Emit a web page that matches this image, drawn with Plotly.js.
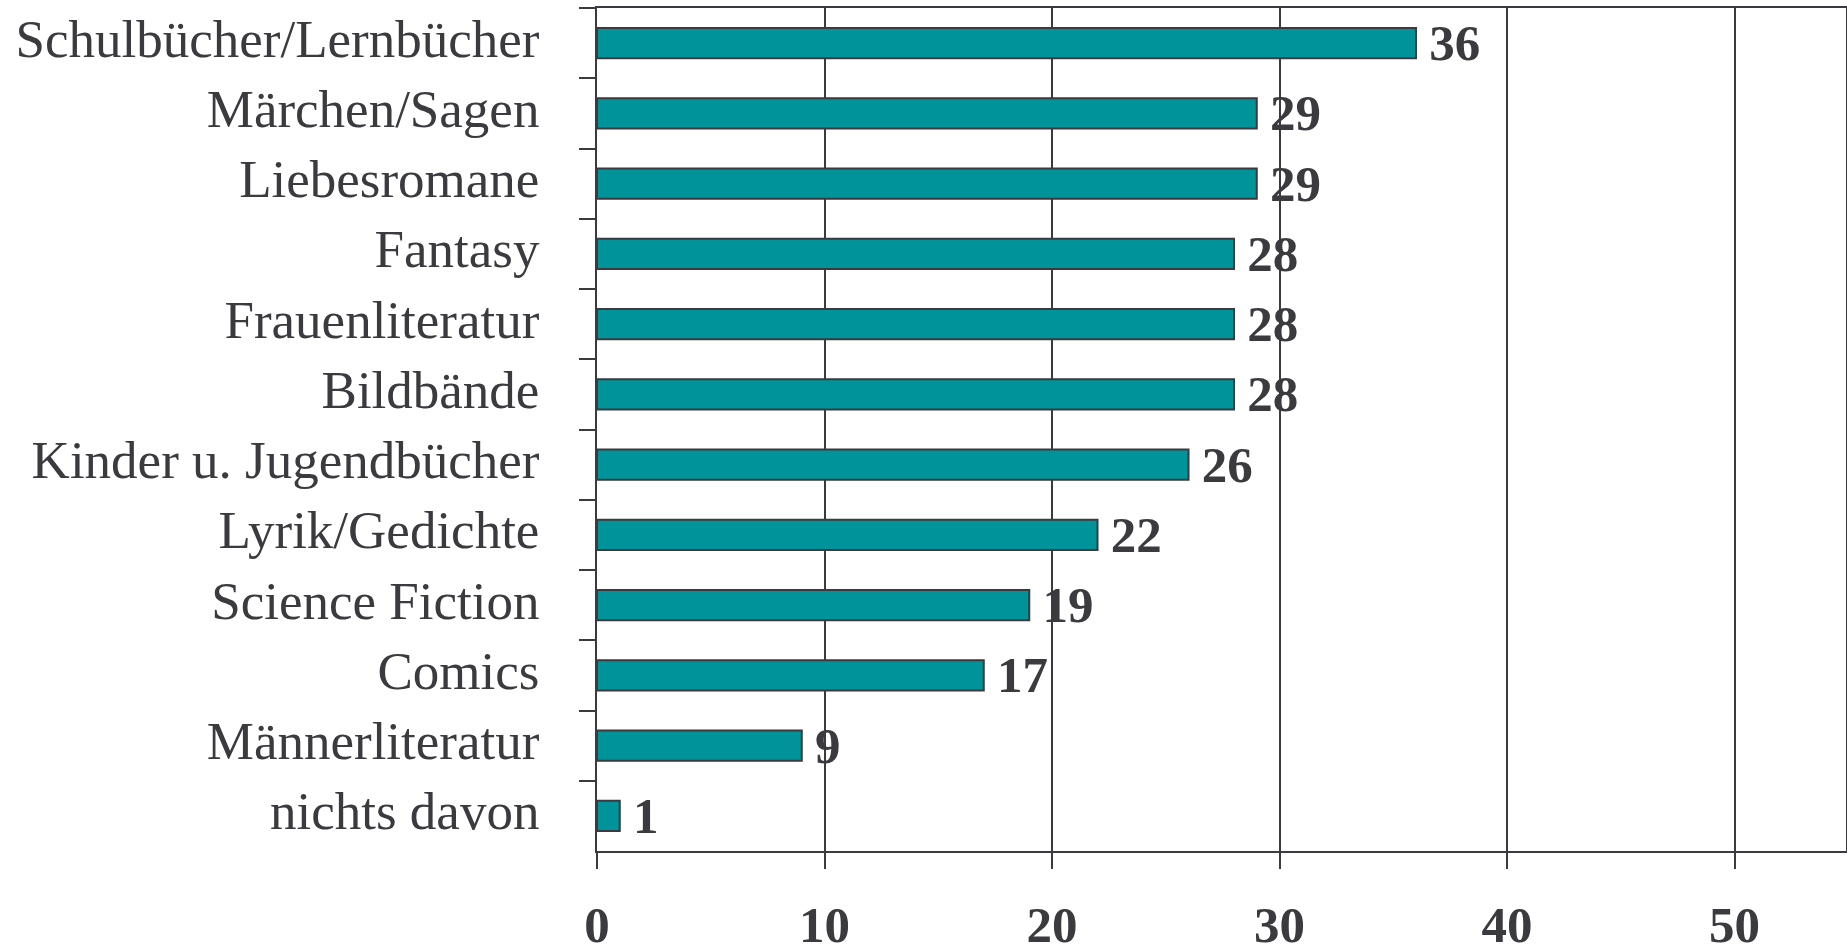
<!DOCTYPE html>
<html>
<head>
<meta charset="utf-8">
<script src="https://cdn.plot.ly/plotly-3.0.1.min.js"></script>
<style>html,body{margin:0;padding:0;background:#fff;}#chart{width:1847px;height:949px;}</style>
</head>
<body>
<div id="chart"></div>
<script>
// Categories listed top to bottom
const categories = [
  "Schulbücher/Lernbücher",
  "Märchen/Sagen",
  "Liebesromane",
  "Fantasy",
  "Frauenliteratur",
  "Bildbände",
  "Kinder u. Jugendbücher",
  "Lyrik/Gedichte",
  "Science Fiction",
  "Comics",
  "Männerliteratur",
  "nichts davon"
];
const values = [36, 29, 29, 28, 28, 28, 26, 22, 19, 17, 9, 1];
const xTickValues = [0, 10, 20, 30, 40, 50];
const xTickLabels = ["0", "10", "20", "30", "40", "50"];

const ink = "#3a3a3f";
const trace = {
  type: "bar",
  orientation: "h",
  x: values,
  y: categories,
  width: 0.43,
  marker: { color: "#00949a", line: { color: ink, width: 2 } },
  text: values.map(v => "\u2009" + v),
  textposition: "outside",
  constraintext: "none",
  cliponaxis: false,
  textfont: { family: "Liberation Serif", size: 51, color: ink, weight: "bold" },
  hoverinfo: "none"
};

const layout = {
  width: 1847,
  height: 949,
  margin: { l: 597, r: 1, t: 8, b: 98 },
  paper_bgcolor: "#ffffff",
  plot_bgcolor: "#ffffff",
  showlegend: false,
  font: { family: "Liberation Serif", color: ink },
  xaxis: {
    range: [0, 54.9],
    tickmode: "array",
    tickvals: xTickValues,
    ticktext: xTickLabels,
    ticks: "outside",
    ticklen: 16,
    tickwidth: 2,
    tickcolor: ink,
    ticklabelstandoff: 12,
    tickfont: { family: "Liberation Serif", size: 51, color: ink, weight: "bold" },
    showgrid: true,
    gridcolor: ink,
    gridwidth: 2,
    zeroline: false,
    showline: true,
    linecolor: ink,
    linewidth: 2,
    mirror: true
  },
  yaxis: {
    type: "category",
    autorange: false,
    range: [11.5, -0.5],
    tickson: "boundaries",
    ticks: "outside",
    ticklen: 16,
    tickwidth: 2,
    tickcolor: ink,
    ticklabelstandoff: 45,
    ticklabelshift: 5,
    tickfont: { family: "Liberation Serif", size: 53, color: ink },
    showgrid: false,
    zeroline: false,
    showline: true,
    linecolor: ink,
    linewidth: 2,
    mirror: true
  }
};

Plotly.newPlot("chart", [trace], layout, { staticPlot: true, displayModeBar: false });
</script>
</body>
</html>
